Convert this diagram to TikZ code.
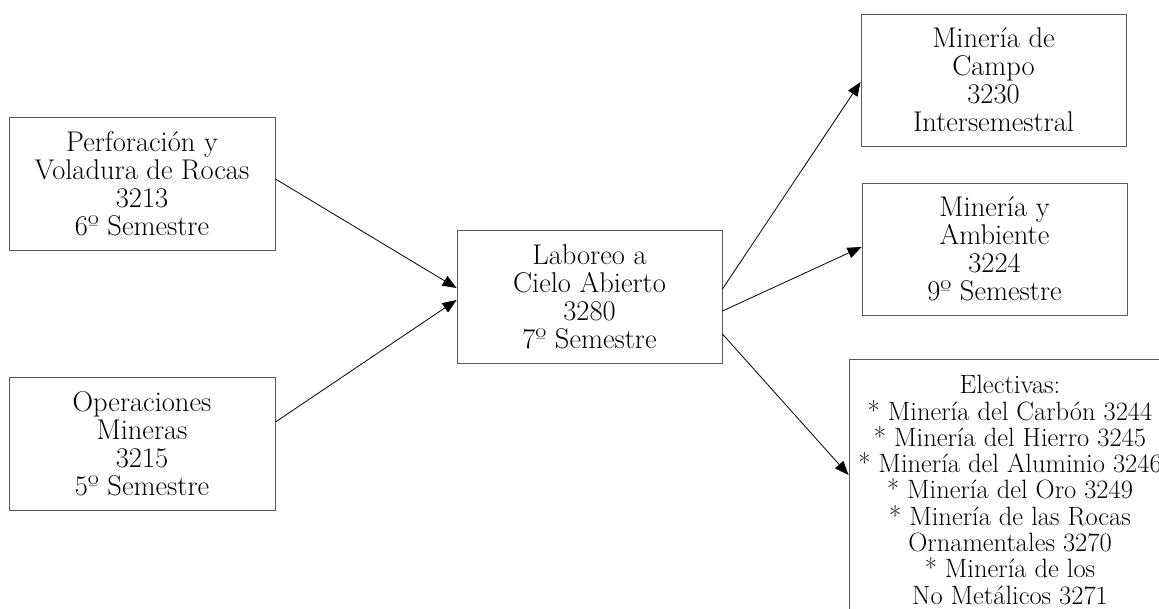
\documentclass[tikz,border=0pt]{standalone}
\usetikzlibrary{arrows.meta}
\begin{document}
\begin{tikzpicture}[x=1pt,y=-1pt,
  course/.style={draw=black!65, line width=0.9pt, align=center, inner sep=0pt,
    font=\fontsize{28.5}{28}\selectfont, minimum width=265pt, minimum height=133pt},
  elective/.style={draw=black!65, line width=0.9pt, align=center, inner sep=0pt,
    font=\fontsize{26.5}{26.3}\selectfont, minimum width=322pt, minimum height=262pt},
  link/.style={draw=black, line width=0.8pt, -{Triangle[length=14pt,width=11pt]}}]
\useasboundingbox (0,0) rectangle (1159,608);

% prerequisite courses
\node[course, minimum width=266pt] (perf) at (142,183.5)
  {Perforación y\\Voladura de Rocas\\3213\\6º Semestre};
\node[course, minimum width=266pt] (oper) at (142,443.5)
  {Operaciones\\Mineras\\3215\\5º Semestre};

% central course
\node[course] (lab) at (589.5,296.5)
  {Laboreo a\\Cielo Abierto\\3280\\7º Semestre};

% following courses
\node[course, minimum height=132pt] (campo) at (993.5,80)
  {Minería de\\Campo\\3230\\Intersemestral};
\node[course, minimum height=132pt] (amb) at (994.5,249)
  {Minería y\\Ambiente\\3224\\9º Semestre};

\begin{scope}
  \clip (0,0) rectangle (1159,608);
  \node[elective] (elec) at (1010,490)
    {Electivas:\\* Minería del Carbón 3244\\* Minería del Hierro 3245\\
     * Minería del Aluminio 3246\\* Minería del Oro 3249\\
     * Minería de las Rocas\\Ornamentales 3270\\* Minería de los\\No Metálicos 3271};
\end{scope}

% connectors
\draw[link] ([yshift=4.5pt]perf.east) -- ([yshift=8.5pt]lab.west);
\draw[link] ([yshift=21.5pt]oper.east) -- ([yshift=-3.5pt]lab.west);
\draw[link] ([yshift=7.5pt]lab.east) -- ([yshift=-2pt]campo.west);
\draw[link] ([yshift=-14.5pt]lab.east) -- ([yshift=2pt]amb.west);
\draw[link] ([yshift=-37.5pt]lab.east) -- ([yshift=15pt]elec.west);
\end{tikzpicture}
\end{document}
